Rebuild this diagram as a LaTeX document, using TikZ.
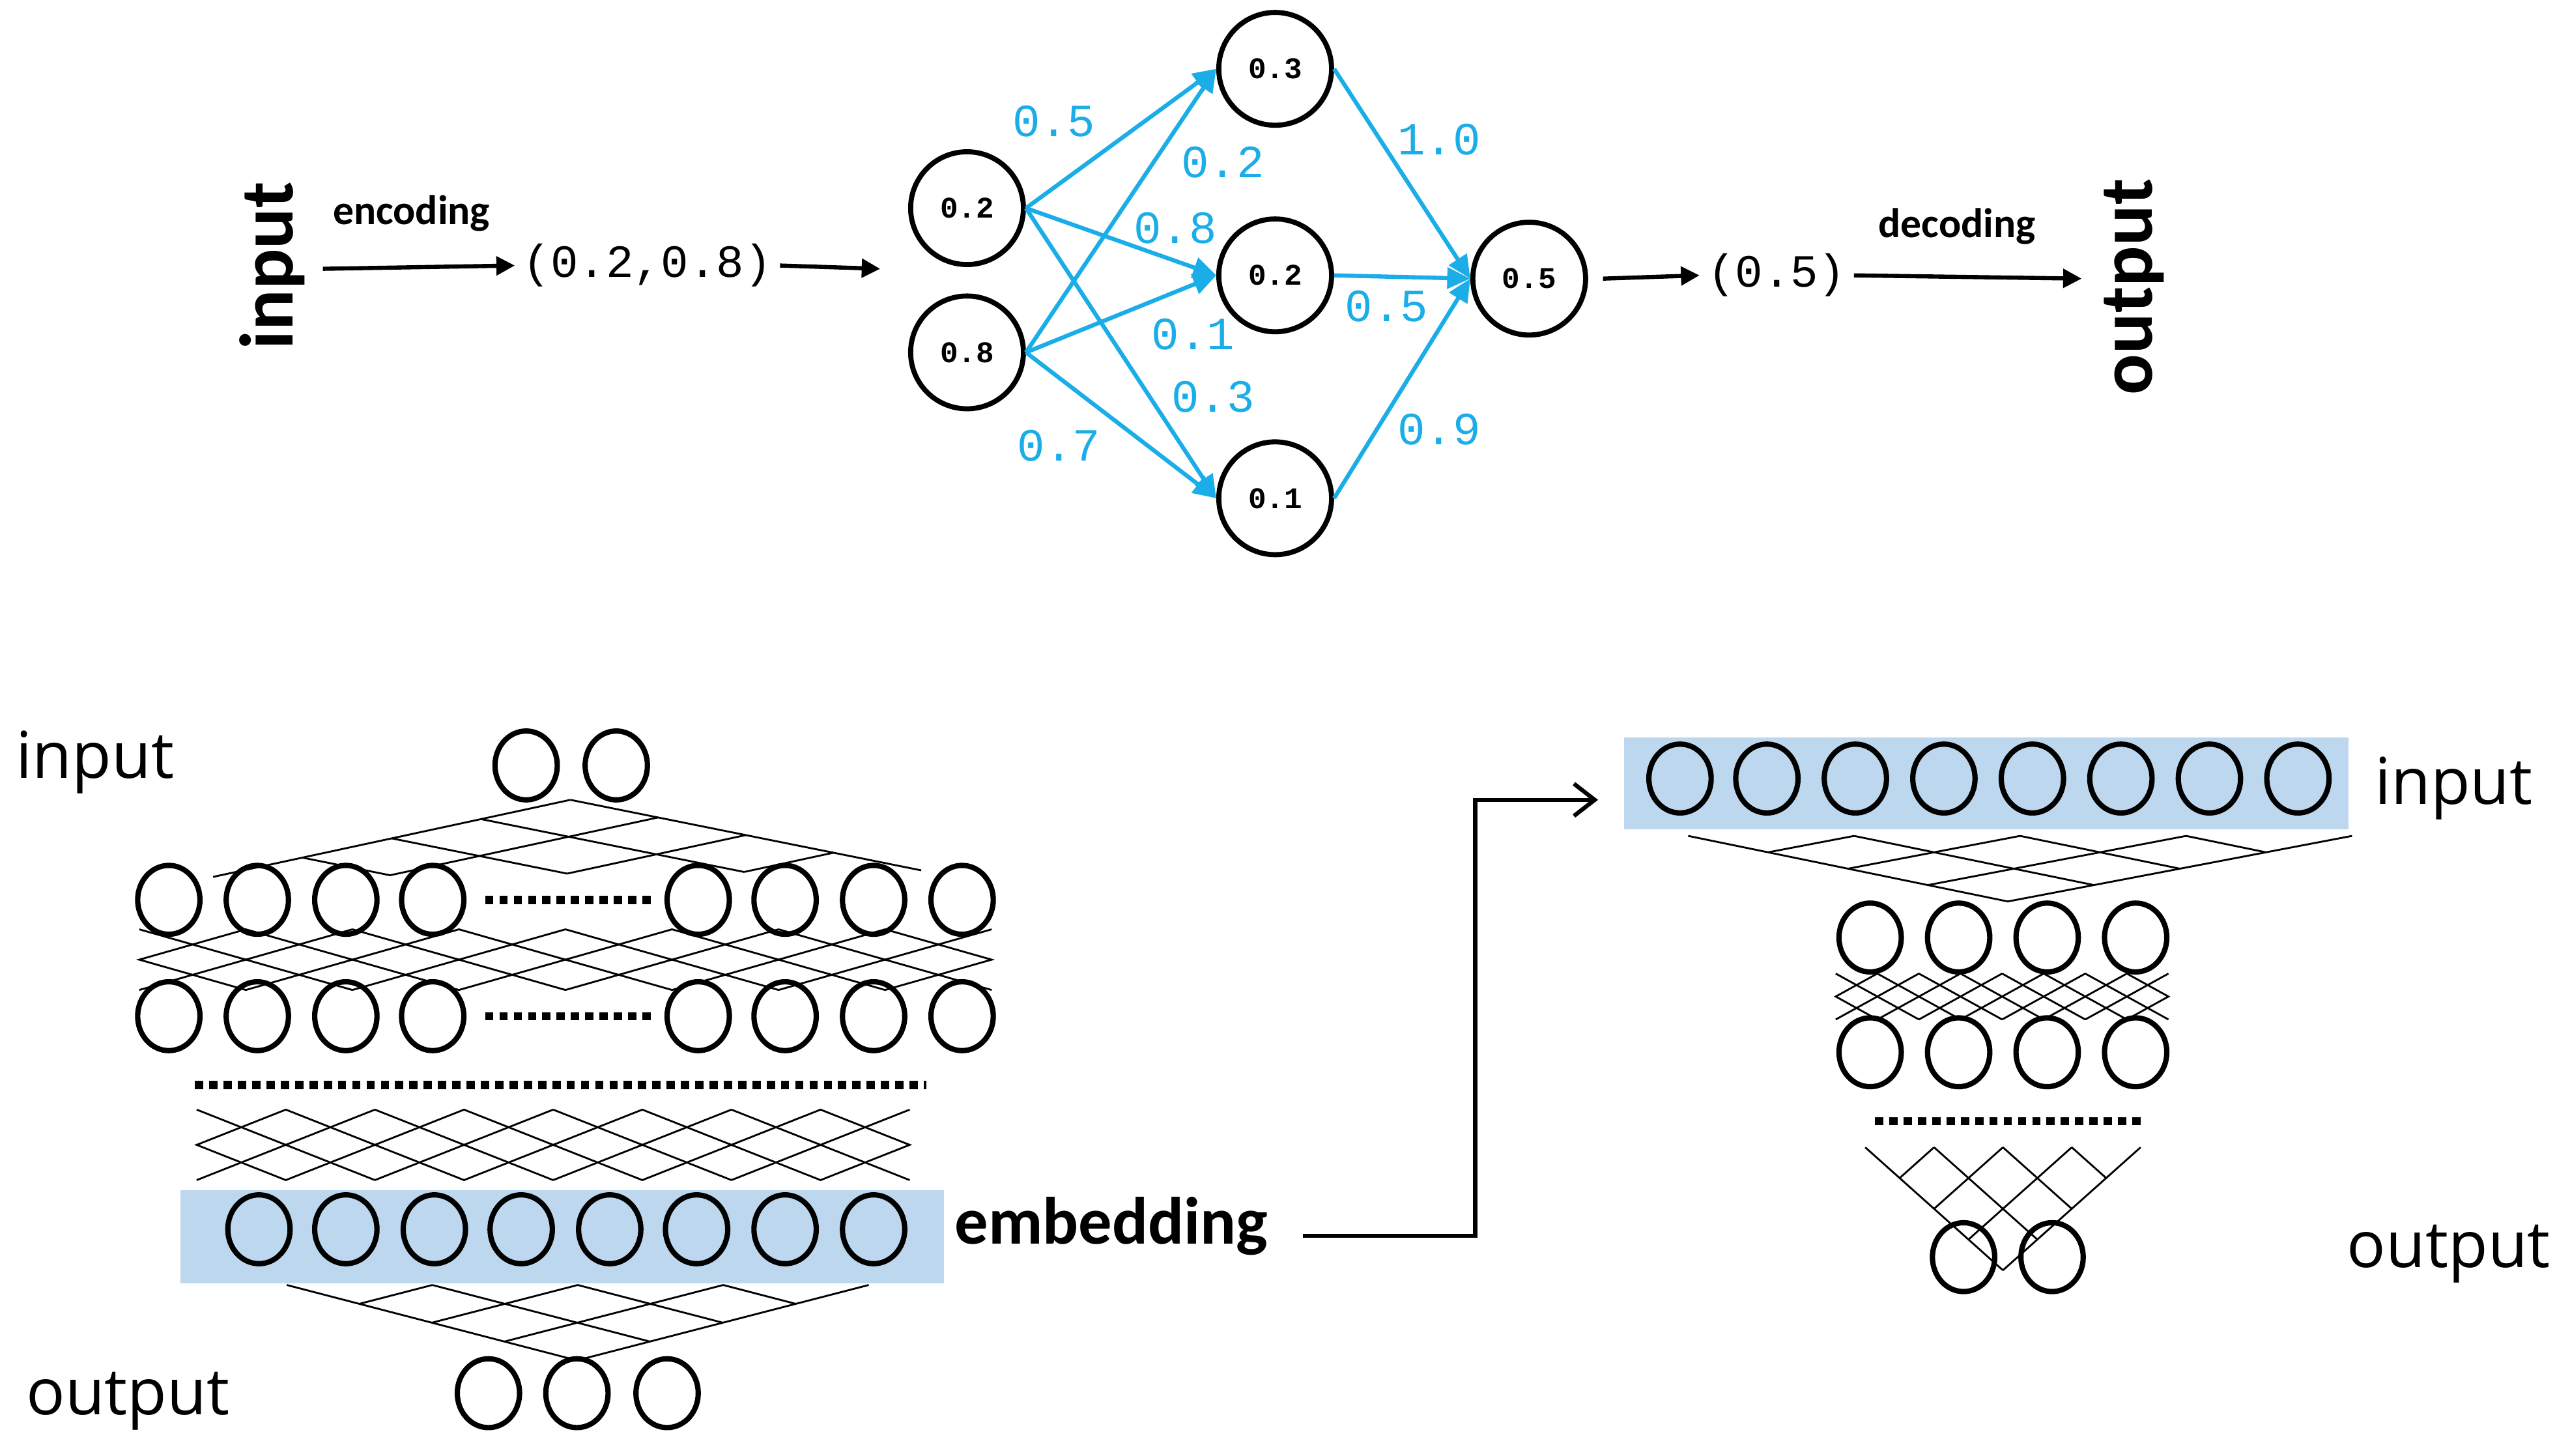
\documentclass[tikz,border=0pt]{standalone}
\usepackage{fontspec}
\setmainfont{Open Sans}
\newfontfamily\carl{Carlito}
\newfontfamily\monof{Liberation Mono}
\usetikzlibrary{arrows.meta,shapes.geometric}
\definecolor{nnblue}{HTML}{1AADE8}
\definecolor{boxblue}{HTML}{BDD7EE}
\tikzset{
  x=0.025cm,y=-0.025cm,
  big/.style={circle,draw,line width=2.2pt,minimum size=1.72cm,inner sep=0pt,font=\monof\fontsize{13}{13}\selectfont\bfseries},
  sm/.style={ellipse,draw,line width=2.3pt,minimum width=0.95cm,minimum height=1.05cm,inner sep=0pt},
  blk/.style={-{Triangle[length=8pt,width=8pt]},line width=1.8pt},
  bl/.style={-{Triangle[length=10pt,width=9pt]},line width=1.8pt,draw=nnblue},
  wl/.style={text=nnblue,font=\monof\fontsize{20}{20}\selectfont},
  lat/.style={line width=0.8pt},
  dots/.style={line width=3.6pt,dash pattern=on 3.6pt off 2.6pt},
}
\newcommand{\trilat}[7]{% apex x,y ; L x,y ; R x,y ; n
  \foreach \k in {0,...,#7}{
    \pgfmathsetmacro{\t}{\k/(#7+1)}
    \draw[lat] ({#1+\t*(#3-#1)},{#2+\t*(#4-#2)}) -- ++({(1-\t)*(#5-#1)},{(1-\t)*(#6-#2)});
    \draw[lat] ({#1+\t*(#5-#1)},{#2+\t*(#6-#2)}) -- ++({(1-\t)*(#3-#1)},{(1-\t)*(#4-#2)});
  }}
\newcommand{\boxlat}[6]{% x0 x1 y0 y1 n shift
  \pgfmathsetmacro{\w}{(#2-#1)/#5}
  \foreach \i in {1,...,#5}{
    \draw[lat] ({#1+(\i-1)*\w},#3) -- ({#1+\i*\w},#4);
    \draw[lat] ({#1+(\i-1)*\w},#4) -- ({#1+\i*\w},#3);
    \draw[lat] ({#1+(\i-1)*\w+#6},{(#3+#4)/2}) -- ({#1+(\i-0.5)*\w+#6},#3) -- ({#1+\i*\w+#6},{(#3+#4)/2}) -- ({#1+(\i-0.5)*\w+#6},#4) -- cycle;
  }}
\begin{document}
\begin{tikzpicture}
\useasboundingbox (0,0) rectangle (1568,888);
% ---------- top network ----------
\node[rotate=90,font=\carl\fontsize{33}{33}\selectfont\bfseries] (tin) at (166,162) {input};
\coordinate (e0) at (197,164);
\node[font=\monof\fontsize{20}{20}\selectfont] (v1) at (395,162) {(0.2,0.8)};
\node[font=\carl\fontsize{18}{18}\selectfont\bfseries] (enc) at (251,130) {encoding};
\draw[blk] (e0) -- (v1.west);
\node[big] (a) at (590,127) {0.2};
\node[big] (b) at (590,215) {0.8};
\node[big] (h1) at (778,42) {0.3};
\node[big] (h2) at (778,168) {0.2};
\node[big] (h3) at (778,304) {0.1};
\node[big] (o) at (933,170) {0.5};
\coordinate (a0) at (537,164);
\draw[blk] (v1.east) -- (a0);
\foreach \s in {a,b}{\foreach \t in {h1,h2,h3}{\draw[bl] (\s.east) -- (\t.west);}}
\foreach \t in {h1,h2,h3}{\draw[bl] (\t.east) -- (o.west);}
\node[wl] at (643,74) {0.5};
\node[wl] at (746,99) {0.2};
\node[wl] at (717,139) {0.8};
\node[wl] at (728,204) {0.1};
\node[wl] at (740,242) {0.3};
\node[wl] at (646,272) {0.7};
\node[wl] at (878,85) {1.0};
\node[wl] at (846,187) {0.5};
\node[wl] at (878,262) {0.9};
\node[font=\monof\fontsize{20}{20}\selectfont] (v2) at (1084,168) {(0.5)};
\coordinate (d1) at (1270,170);
\coordinate (o1) at (978,170);
\draw[blk] (o1) -- (v2.west);
\draw[blk] (v2.east) -- (d1);
\node[font=\carl\fontsize{18}{18}\selectfont\bfseries] (dec) at (1194,138) {decoding};
\node[rotate=90,font=\carl\fontsize{33}{33}\selectfont\bfseries] (tout) at (1302,175) {output};
% ---------- bottom left ----------
\node[font=\fontsize{28}{28}\selectfont] (lin) at (58,465) {input};
\node[font=\fontsize{28}{28}\selectfont] (lout) at (78,855) {output};
\node[sm] (t1) at (321,467) {};
\node[sm] (t2) at (376,467) {};
\foreach \x [count=\i] in {103,157,211,264,426,479,533,587}{
  \node[sm] (r1\i) at (\x,549) {};
  \node[sm] (r2\i) at (\x,620) {};}
\draw[dots] (296,549) -- (400,549);
\draw[dots] (296,620) -- (400,620);
\draw[dots] (119,662) -- (565,662);
\fill[boxblue] (110,726) rectangle (576,783);
\foreach \x [count=\i] in {158,211,265,318,372,425,479,533}{\node[sm] (em\i) at (\x,750) {};}
\node[font=\carl\fontsize{29}{29}\selectfont\bfseries] (emb) at (678,748) {embedding};
\foreach \x [count=\i] in {298,352,407}{\node[sm] (b\i) at (\x,850) {};}
\trilat{348}{488}{130}{535}{562}{531}{3}
\boxlat{85}{605}{567}{604}{4}{0}
\boxlat{120}{555}{677}{720}{4}{0}
\trilat{352}{830}{175}{784}{530}{784}{3}
% ---------- bottom right ----------
\fill[boxblue] (991,450) rectangle (1433,506);
\foreach \x [count=\i] in {1025,1078,1132,1186,1240,1294,1348,1402}{\node[sm] (in\i) at (\x,475) {};}
\node[font=\fontsize{28}{28}\selectfont] (rin) at (1497,481) {input};
\node[font=\fontsize{28}{28}\selectfont] (rout) at (1494,765) {output};
\foreach \x [count=\i] in {1141,1195,1249,1303}{
  \node[sm] (q1\i) at (\x,572) {};
  \node[sm] (q2\i) at (\x,642) {};}
\draw[dots] (1144,684) -- (1306,684);
\foreach \x [count=\i] in {1198,1252}{\node[sm] (f\i) at (\x,767) {};}
\trilat{1225}{550}{1030}{510}{1435}{510}{3}
\boxlat{1120}{1323}{594}{622}{4}{0}
\trilat{1222}{775}{1138}{700}{1306}{700}{3}
% connector
\coordinate (c0) at (795,754);
\coordinate (c1) at (900,754);
\coordinate (c2) at (900,488);
\coordinate (c3) at (975,488);
\draw[line width=1.8pt,-{Straight Barb[length=9pt,width=14pt]}] (c0) -- (c1) -- (c2) -- (c3);
\end{tikzpicture}
\end{document}
